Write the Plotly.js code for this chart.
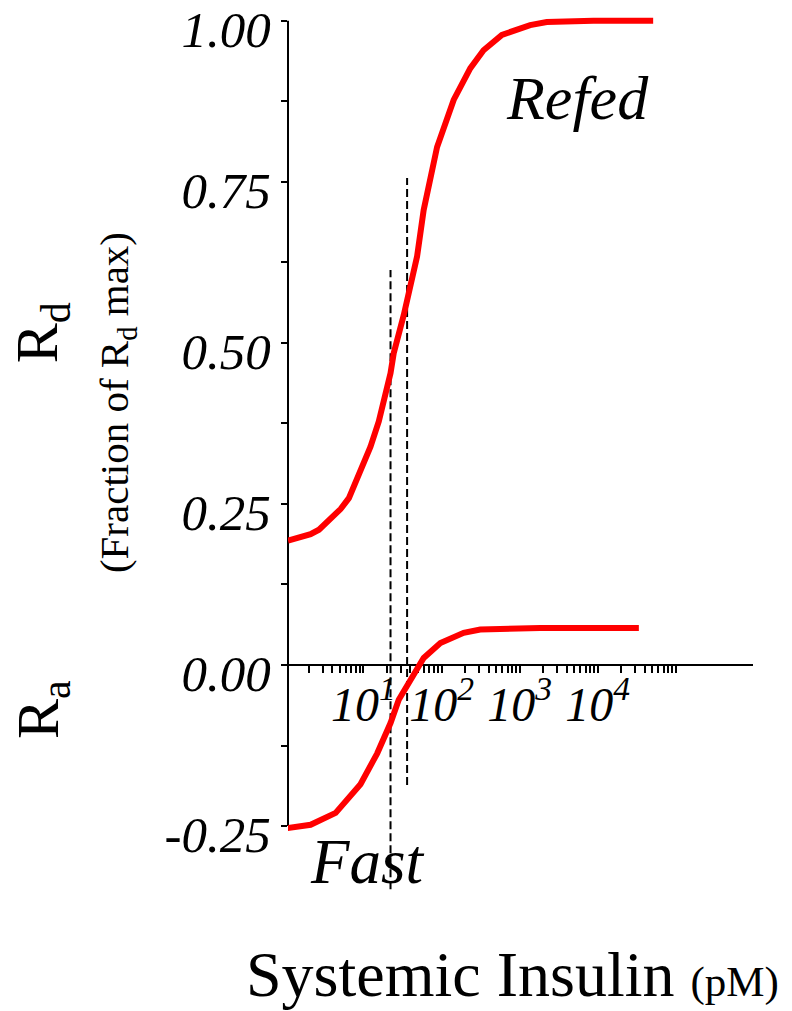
<!DOCTYPE html>
<html>
<head>
<meta charset="utf-8">
<script src="https://cdn.plot.ly/plotly-3.0.1.min.js"></script>
<style>html,body{margin:0;padding:0;background:#fff;}#chart{width:792px;height:1011px;}</style>
</head>
<body>
<div id="chart"></div>
<script>
// ---- data ----
const refedX = [1.08, 2.10, 2.69, 5.09, 6.50, 12.3, 15.7, 22.2, 24.4, 32.8, 48.6, 59.0, 87.7, 143, 233, 345, 593, 1365, 2228, 8790, 51400];
const refedY = [0.193, 0.203, 0.210, 0.242, 0.259, 0.339, 0.378, 0.453, 0.484, 0.543, 0.634, 0.706, 0.804, 0.877, 0.926, 0.954, 0.978, 0.993, 0.998, 1.000, 1.000];

const fastX = [1.06, 2.10, 4.40, 9.16, 15.0, 22.2, 28.3, 44.1, 59.0, 96.6, 158, 192, 313, 400, 834, 1830, 33700];
const fastY = [-0.253, -0.248, -0.2295, -0.185, -0.137, -0.090, -0.054, -0.015, 0.011, 0.034, 0.047, 0.050, 0.055, 0.0553, 0.057, 0.0574, 0.0574];

const dashX = [22.2, 36.2];
const dashTop = [0.613, 0.756];
const dashBottom = [-0.348, -0.186];

const xTickVals = [2,3,4,5,6,7,8,9,10, 20,30,40,50,60,70,80,90,100, 200,300,400,500,600,700,800,900,1000, 2000,3000,4000,5000,6000,7000,8000,9000,10000, 20000,30000,40000,50000,60000,70000,80000,90000,100000];
const xTickLabels = {10: '10<sup>1</sup>', 100: '10<sup>2</sup>', 1000: '10<sup>3</sup>', 10000: '10<sup>4</sup>'};
const yTickVals = [-0.25, -0.125, 0, 0.125, 0.25, 0.375, 0.5, 0.625, 0.75, 0.875, 1.0];
const yTickText = ['-0.25', '', '0.00', '', '0.25', '', '0.50', '', '0.75', '', '1.00'];

const labelRefed = 'Refed';
const labelFast = 'Fast';
const xTitle = 'Systemic Insulin <span style="font-size:43px">(pM)</span>';
const yTitleRd = 'R<sub>d</sub>';
const yTitleRdSub = '(Fraction of R<sub>d</sub> max)';
const yTitleRa = 'R<sub>a</sub>';

// ---- layout geometry ----
const W = 792, H = 1011;
const mL = 288, mR = 38.5, mT = 10.8, mB = 113.6;
const yMin = -0.36, yMax = 1.015;
const px2paperX = px => (px - mL) / (W - mL - mR);
const px2paperY = py => ((H - mB) - py) / (H - mB - mT);

const serif = 'Liberation Serif, Times New Roman, serif';

const traces = [];
dashX.forEach((x, i) => {
  traces.push({
    x: [x, x], y: [dashBottom[i], dashTop[i]],
    mode: 'lines', line: {color: 'black', width: 2, dash: '8px,4px'},
    hoverinfo: 'skip', showlegend: false
  });
});
traces.push({x: refedX, y: refedY, mode: 'lines', line: {color: '#ff0000', width: 6}, showlegend: false});
traces.push({x: fastX, y: fastY, mode: 'lines', line: {color: '#ff0000', width: 6}, showlegend: false});

const layout = {
  width: W, height: H,
  margin: {l: mL, r: mR, t: mT, b: mB, pad: 0},
  paper_bgcolor: 'white', plot_bgcolor: 'white',
  showlegend: false,
  xaxis: {
    type: 'log', range: [0.033, 5.99],
    anchor: 'free', position: (0 - yMin) / (yMax - yMin),
    showline: true, linecolor: 'black', linewidth: 2,
    ticks: 'outside', ticklen: 7, tickwidth: 2, tickcolor: 'black',
    tickmode: 'array', tickvals: xTickVals,
    ticktext: xTickVals.map(v => xTickLabels[v] || ''),
    tickfont: {family: serif, size: 48, style: 'italic', color: 'black'},
    ticklabelstandoff: -10,
    showgrid: false, zeroline: false, layer: 'below traces'
  },
  yaxis: {
    range: [yMin, yMax],
    showline: false,
    ticks: 'outside', ticklen: 6, tickwidth: 2, tickcolor: 'black',
    tickmode: 'array', tickvals: yTickVals, ticktext: yTickText,
    tickfont: {family: serif, size: 51, style: 'italic', color: 'black'},
    ticklabelshift: 8,
    ticklabeloverflow: 'allow',
    showgrid: false, zeroline: false
  },
  shapes: [{
    type: 'line', xref: 'paper', yref: 'y', x0: 0, x1: 0,
    y0: yTickVals[0], y1: yTickVals[yTickVals.length - 1],
    line: {color: 'black', width: 2}, layer: 'below'
  }],
  annotations: [
    {text: labelRefed, xref: 'paper', yref: 'paper', x: px2paperX(578), y: px2paperY(98), xanchor: 'center', yanchor: 'middle', showarrow: false,
     font: {family: serif, size: 62, style: 'italic', color: 'black'}},
    {text: labelFast, xref: 'paper', yref: 'paper', x: px2paperX(368), y: px2paperY(862), xanchor: 'center', yanchor: 'middle', showarrow: false,
     font: {family: serif, size: 63, style: 'italic', color: 'black'}},
    {text: xTitle, xref: 'paper', yref: 'paper', x: px2paperX(513), y: px2paperY(975), xanchor: 'center', yanchor: 'middle', showarrow: false,
     font: {family: serif, size: 64, color: 'black'}},
    {text: yTitleRd, xref: 'paper', yref: 'paper', x: px2paperX(42), y: px2paperY(333), xanchor: 'center', yanchor: 'middle', showarrow: false, textangle: -90,
     font: {family: serif, size: 60, color: 'black'}},
    {text: yTitleRdSub, xref: 'paper', yref: 'paper', x: px2paperX(117), y: px2paperY(403), xanchor: 'center', yanchor: 'middle', showarrow: false, textangle: -90,
     font: {family: serif, size: 41, color: 'black'}},
    {text: yTitleRa, xref: 'paper', yref: 'paper', x: px2paperX(42), y: px2paperY(710), xanchor: 'center', yanchor: 'middle', showarrow: false, textangle: -90,
     font: {family: serif, size: 60, color: 'black'}}
  ]
};

Plotly.newPlot('chart', traces, layout, {staticPlot: true, displayModeBar: false});
</script>
</body>
</html>
